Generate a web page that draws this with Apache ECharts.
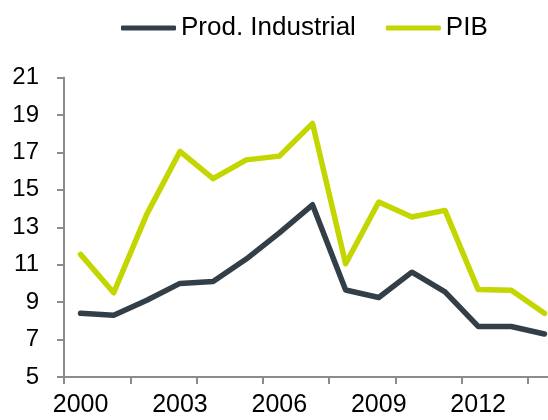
<!DOCTYPE html>
<html>
<head>
<meta charset="utf-8">
<script src="https://cdn.jsdelivr.net/npm/echarts@6/dist/echarts.min.js"></script>
<style>
html,body{margin:0;padding:0;background:#fff;}
#chart{width:548px;height:420px;}
</style>
</head>
<body>
<div id="chart"></div>
<script>
var years = ['2000','2001','2002','2003','2004','2005','2006','2007','2008','2009','2010','2011','2012','2013','2014'];
var prodIndustrial = [8.4, 8.3, 9.1, 10.0, 10.1, 11.3, 12.7, 14.2, 9.65, 9.25, 10.6, 9.55, 7.7, 7.7, 7.3];
var pib = [11.55, 9.5, 13.7, 17.05, 15.6, 16.6, 16.8, 18.55, 11.05, 14.35, 13.55, 13.9, 9.67, 9.63, 8.4];
var seriesNames = ['Prod. Industrial', 'PIB'];
var yMin = 5, yMax = 21, yStep = 2;

var FONT = 'Arial, "Liberation Sans", sans-serif';
var chart = echarts.init(document.getElementById('chart'), null, {renderer: 'canvas'});
chart.setOption({
  animation: false,
  backgroundColor: '#ffffff',
  legend: {
    left: 116,
    top: 10,
    icon: 'roundRect',
    itemWidth: 55,
    itemHeight: 5,
    itemGap: 30,
    textStyle: {fontFamily: FONT, fontSize: 26, color: '#000'},
    data: seriesNames
  },
  grid: {left: 64, right: -13, top: 77.5, bottom: 43, containLabel: false, outerBoundsMode: 'none'},
  xAxis: {
    type: 'category',
    data: years,
    boundaryGap: true,
    axisLine: {lineStyle: {color: '#8c8c8c', width: 2}},
    axisTick: {show: true, interval: 1, length: 7, lineStyle: {color: '#8c8c8c', width: 2}},
    axisLabel: {interval: 2, fontFamily: FONT, fontSize: 25, color: '#000', margin: 16, hideOverlap: false},
    splitLine: {show: false}
  },
  yAxis: {
    type: 'value',
    min: yMin, max: yMax, interval: yStep,
    axisLine: {show: true, lineStyle: {color: '#8c8c8c', width: 2}},
    axisTick: {show: true, length: 7, lineStyle: {color: '#8c8c8c', width: 2}},
    axisLabel: {fontFamily: FONT, fontSize: 24, color: '#000', margin: 25},
    splitLine: {show: false}
  },
  series: [
    {
      name: seriesNames[0], type: 'line', data: prodIndustrial,
      symbol: 'none', color: '#333f48',
      lineStyle: {width: 5.5, color: '#333f48', cap: 'round', join: 'round'}
    },
    {
      name: seriesNames[1], type: 'line', data: pib,
      symbol: 'none', color: '#c4d600',
      lineStyle: {width: 5.5, color: '#c4d600', cap: 'round', join: 'round'}
    }
  ]
});
</script>
</body>
</html>
